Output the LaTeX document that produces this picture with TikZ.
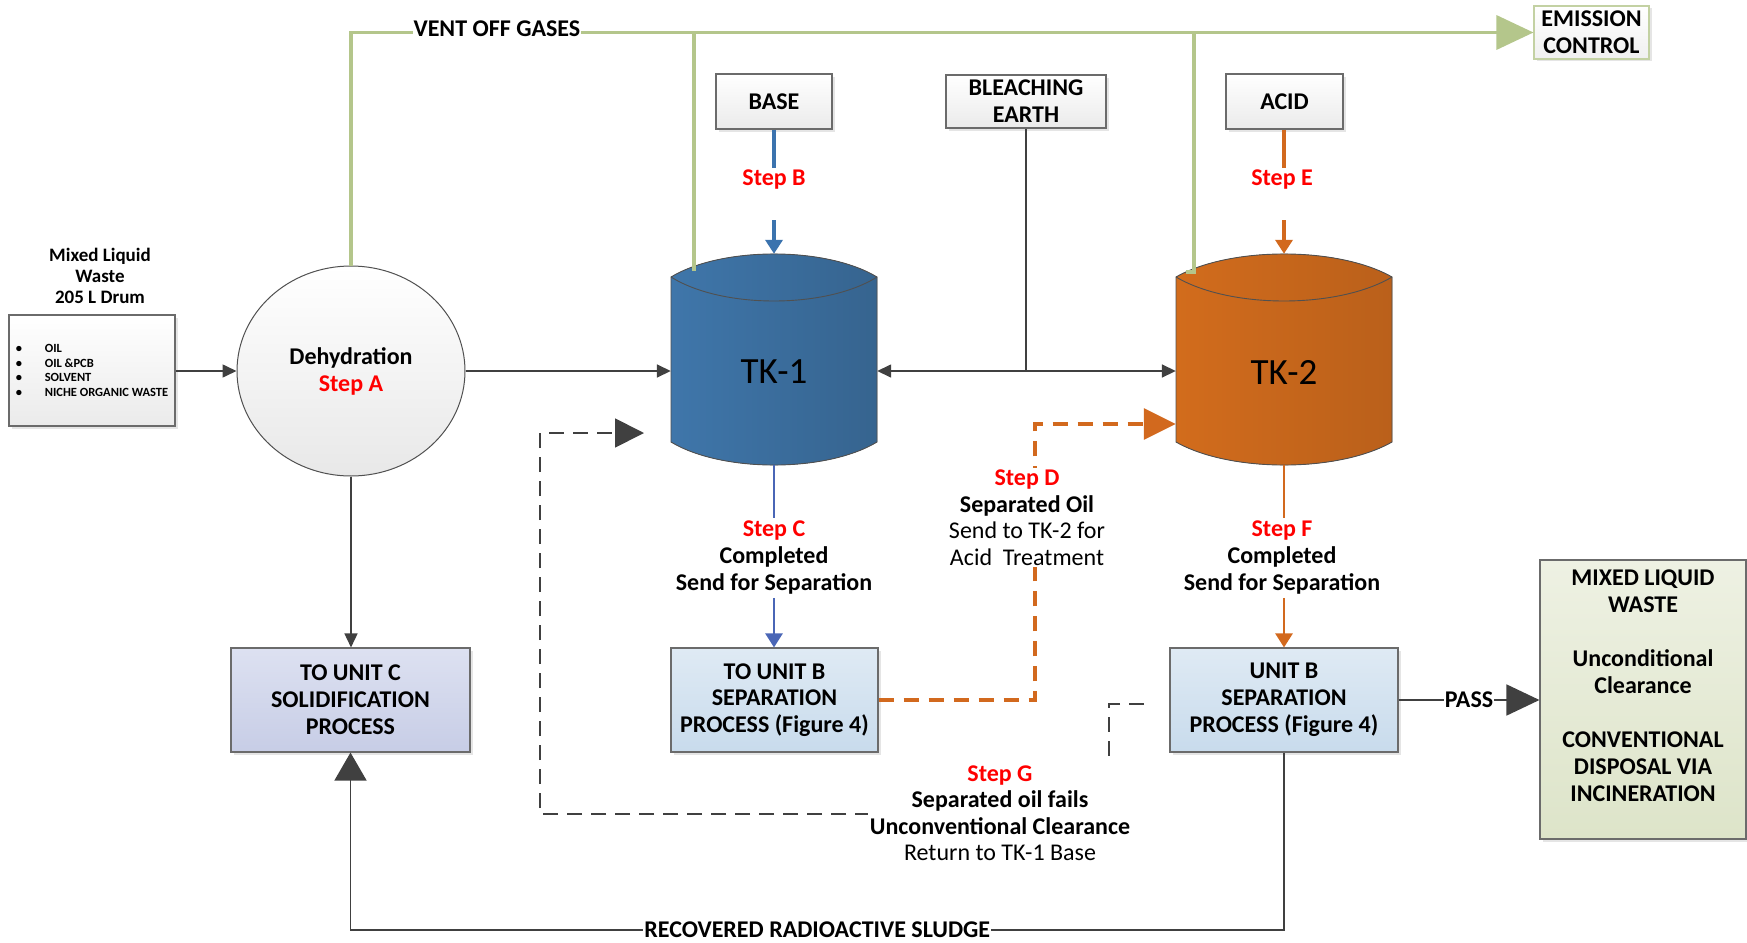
\documentclass[tikz,border=0pt]{standalone}
\usepackage{fontspec}
\setmainfont{Carlito}
\usetikzlibrary{arrows.meta,shapes.geometric,shadows}
\definecolor{dline}{HTML}{404040}
\definecolor{boxborder}{HTML}{6B6B6B}
\definecolor{ventgreen}{HTML}{B4C68B}
\definecolor{stepred}{HTML}{FF0000}
\definecolor{tkoneL}{HTML}{3F76AA}
\definecolor{tkoneR}{HTML}{36648F}
\definecolor{tktwoL}{HTML}{D26C1C}
\definecolor{tktwoR}{HTML}{BA601B}
\definecolor{baseblue}{HTML}{3B73AE}
\definecolor{cblue}{HTML}{4A66B6}
\definecolor{orng}{HTML}{D2691E}
\definecolor{unitcT}{HTML}{DDE1F1}
\definecolor{unitcB}{HTML}{C7CDE6}
\definecolor{unitbT}{HTML}{DFEAF4}
\definecolor{unitbB}{HTML}{C8DBEC}
\definecolor{finalT}{HTML}{EEF1E3}
\definecolor{finalB}{HTML}{DDE4C9}
\definecolor{emisborder}{HTML}{C3D1A3}
\definecolor{tankedge}{HTML}{505050}
\begin{document}
\begin{tikzpicture}[x=1pt,y=-1pt,
  lbl/.style={font=\bfseries\fontsize{24}{27}\selectfont, align=center},
  reglbl/.style={font=\fontsize{24}{26.5}\selectfont, align=center},
  shbox/.style={draw=boxborder, line width=1.1pt, inner sep=0pt, align=center,
    font=\bfseries\fontsize{24}{26.8}\selectfont,
    drop shadow={shadow xshift=2.5pt, shadow yshift=-2.5pt, fill=black!10, opacity=1}},
  graybox/.style={shbox, top color=white, bottom color=black!8},
  emisbox/.style={shbox, draw=emisborder, top color=white, bottom color=black!6},
  ubox/.style={shbox, top color=unitbT, bottom color=unitbB},
  cbox/.style={shbox, top color=unitcT, bottom color=unitcB},
  fbox/.style={shbox, top color=finalT, bottom color=finalB},
  tklabel/.style={font=\fontsize{37}{40}\selectfont},
  anchorbox/.style={inner sep=0pt, draw=none},
  dl/.style={draw=dline, line width=1.6pt},
  arr/.style={dl, -{Triangle[length=14pt,width=13pt]}},
  vent/.style={draw=ventgreen, line width=3.5pt},
  bluethick/.style={draw=baseblue, line width=4pt},
  bluethin/.style={draw=cblue, line width=2.6pt},
  orthick/.style={draw=orng, line width=4pt},
  orthin/.style={draw=orng, line width=2.6pt},
  smalltip/.style={-{Triangle[length=14pt,width=17pt]}},
  odash/.style={draw=orng, line width=3.2pt, dash pattern=on 15pt off 10pt},
  kdash/.style={draw=dline, line width=1.8pt, dash pattern=on 15pt off 9pt},
  cover/.style={fill=white, inner sep=2pt, align=center, font=\fontsize{24}{26.5}\selectfont}
]
\useasboundingbox (0,0) rectangle (1747,942);

% ---------- boxes ----------
\node[graybox, minimum width=166pt, minimum height=111pt, align=left,
      font=\bfseries\fontsize{12.5}{14.7}\selectfont] (input) at (92,370.5)
  {\makebox[29pt][l]{\textbullet}OIL\\\makebox[29pt][l]{\textbullet}OIL \&PCB\\\makebox[29pt][l]{\textbullet}SOLVENT\\\makebox[29pt][l]{\textbullet}NICHE ORGANIC WASTE};
\node[font=\bfseries\fontsize{19}{21}\selectfont, align=center] (inlabel) at (100,276) {Mixed Liquid\\Waste\\205 L Drum};

\node[ellipse, draw=tankedge, line width=1pt, minimum width=228pt, minimum height=210pt,
      inner sep=0pt, top color=white, bottom color=black!9, lbl] (dehyd) at (351,371)
  {Dehydration\\\textcolor{stepred}{Step A}};

\node[graybox, minimum width=116pt, minimum height=55pt] (base) at (774,101.5) {BASE};
\node[graybox, minimum width=160pt, minimum height=53pt] (bleach) at (1026,101.5) {BLEACHING\\EARTH};
\node[graybox, minimum width=117pt, minimum height=55pt] (acid) at (1284.5,101.5) {ACID};
\node[emisbox, minimum width=115pt, minimum height=53pt] (emis) at (1591.5,32.5) {EMISSION\\CONTROL};

\node[cbox, minimum width=239pt, minimum height=104pt] (unitc) at (350.5,700) {TO UNIT C\\SOLIDIFICATION\\PROCESS};
\node[ubox, minimum width=207pt, minimum height=104pt] (tounitb) at (774.5,700) {TO UNIT B\\SEPARATION\\PROCESS (Figure 4)};
\node[ubox, minimum width=228pt, minimum height=104pt] (unitb) at (1284,700) {UNIT B\\SEPARATION\\PROCESS (Figure 4)};
\node[fbox, minimum width=206pt, minimum height=279pt] (final) at (1643,699.5) {};
\node[lbl] (finaltext) at (1643,686) {MIXED LIQUID\\WASTE\\[27pt]Unconditional\\Clearance\\[27pt]CONVENTIONAL\\DISPOSAL VIA\\INCINERATION};

% ---------- tanks ----------
\fill[left color=tkoneL, right color=tkoneR]
  (671,277) .. controls (722,246.3) and (826,246.3) .. (877,277) -- (877,442)
  .. controls (826,472.7) and (722,472.7) .. (671,442) -- cycle;
\draw[tankedge, line width=0.9pt]
  (671,277) .. controls (722,246.3) and (826,246.3) .. (877,277) -- (877,442)
  .. controls (826,472.7) and (722,472.7) .. (671,442) -- cycle;
\draw[tankedge, line width=0.9pt] (671,277) .. controls (722,309) and (826,309) .. (877,277);
\node[anchorbox, minimum width=206pt, minimum height=211pt] (tk1) at (774,359.5) {};
\node[tklabel] (tk1text) at (774,372) {TK-1};

\fill[left color=tktwoL, right color=tktwoR]
  (1176,277) .. controls (1230,246.3) and (1338,246.3) .. (1392,277) -- (1392,442)
  .. controls (1338,472.7) and (1230,472.7) .. (1176,442) -- cycle;
\draw[tankedge, line width=0.9pt]
  (1176,277) .. controls (1230,246.3) and (1338,246.3) .. (1392,277) -- (1392,442)
  .. controls (1338,472.7) and (1230,472.7) .. (1176,442) -- cycle;
\draw[tankedge, line width=0.9pt] (1176,277) .. controls (1230,309) and (1338,309) .. (1392,277);
\node[anchorbox, minimum width=216pt, minimum height=211pt] (tk2) at (1284,359.5) {};
\node[tklabel] (tk2text) at (1284,372) {TK-2};

% ---------- step labels ----------
\node[lbl, inner sep=2pt] (stepB) at (774,180) {\textcolor{stepred}{Step B}};
\node[lbl, inner sep=2pt] (stepE) at (1282,180) {\textcolor{stepred}{Step E}};
\node[lbl, inner sep=3pt] (stepC) at (774,558) {\textcolor{stepred}{Step C}\\Completed\\Send for Separation};
\node[lbl, inner sep=3pt] (stepF) at (1282,558) {\textcolor{stepred}{Step F}\\Completed\\Send for Separation};

% ---------- connectors ----------
\draw[arr] (dehyd.west -| input.east) -- (dehyd.west);
\draw[arr] (dehyd.east) -- (dehyd.east -| tk1.west);
\coordinate (junc) at (bleach.south |- dehyd.east);
\draw[dl] (bleach.south) -- (junc);
\draw[arr] (junc) -- (junc -| tk1.east);
\draw[arr] (junc) -- (junc -| tk2.west);
\draw[arr] (dehyd.south) -- (dehyd.south |- unitc.north);

% vent gases
\coordinate (vtop) at (dehyd.north |- emis.west);
\draw[vent, -{Triangle[length=37pt,width=34pt]}] (dehyd.north) -- (vtop)
  -- node[pos=0.1234, lbl, fill=white, inner sep=1pt, yshift=4pt] {VENT OFF GASES} (emis.west);
\coordinate (v1) at (694,271);
\draw[vent] (v1) -- (v1 |- vtop);
\coordinate (v2) at (1186,272);
\coordinate (v2c) at (1194,272);
\draw[vent] (v2) -- (v2c) -- (v2c |- vtop);

% base / acid
\coordinate (b2) at (774,220);
\draw[bluethick] (base.south) -- (base.south |- stepB.north);
\draw[bluethick, smalltip] (b2) -- (tk1.north);
\coordinate (e2) at (1284,220);
\draw[orthick] (acid.south -| tk2.north) -- (tk2.north |- stepE.north);
\draw[orthick, smalltip] (e2) -- (tk2.north);

% to separation
\draw[bluethin] (tk1.south) -- (tk1.south |- stepC.north);
\draw[bluethin, smalltip] (tk1.south |- stepC.south) -- (tounitb.north -| tk1.south);
\draw[orthin] (tk2.south) -- (tk2.south |- stepF.north);
\draw[orthin, smalltip] (tk2.south |- stepF.south) -- (unitb.north);

% step D
\coordinate (d1) at (1035,424);
\draw[odash, -{Triangle[length=32pt,width=31pt]}] (tounitb.east) -| (d1) -- (d1 -| tk2.west);
\node[cover] (stepD) at (1027,517.5)
  {\textbf{\textcolor{stepred}{Step D}}\\\textbf{Separated Oil}\\Send to TK-2 for\\Acid\ \ Treatment};

% step G
\coordinate (g0) at (1144,704);
\coordinate (g1) at (1109,704);
\coordinate (g3) at (540,814);
\coordinate (g5) at (644,433);
\draw[kdash, -{Triangle[length=29pt,width=29pt]}] (g0) -- (g1) |- (g3) |- (g5);
\node[cover] (stepG) at (1000,813)
  {\textbf{\textcolor{stepred}{Step G}}\\\textbf{Separated oil fails}\\\textbf{Unconventional Clearance}\\Return to TK-1 Base};

% pass
\draw[dl, -{Triangle[length=33pt,width=31pt]}] (unitb.east) -- node[lbl, fill=white, inner sep=1pt] {PASS} (unitb.east -| final.west);

% recovered sludge
\coordinate (rb) at (1284,930);
\coordinate (rc) at (350.5,930);
\draw[dl, -{Triangle[length=28pt,width=32pt]}] (unitb.south) -- (rb)
  -- node[lbl, fill=white, inner sep=1pt] {RECOVERED RADIOACTIVE SLUDGE} (rc) -- (unitc.south);
\end{tikzpicture}
\end{document}
